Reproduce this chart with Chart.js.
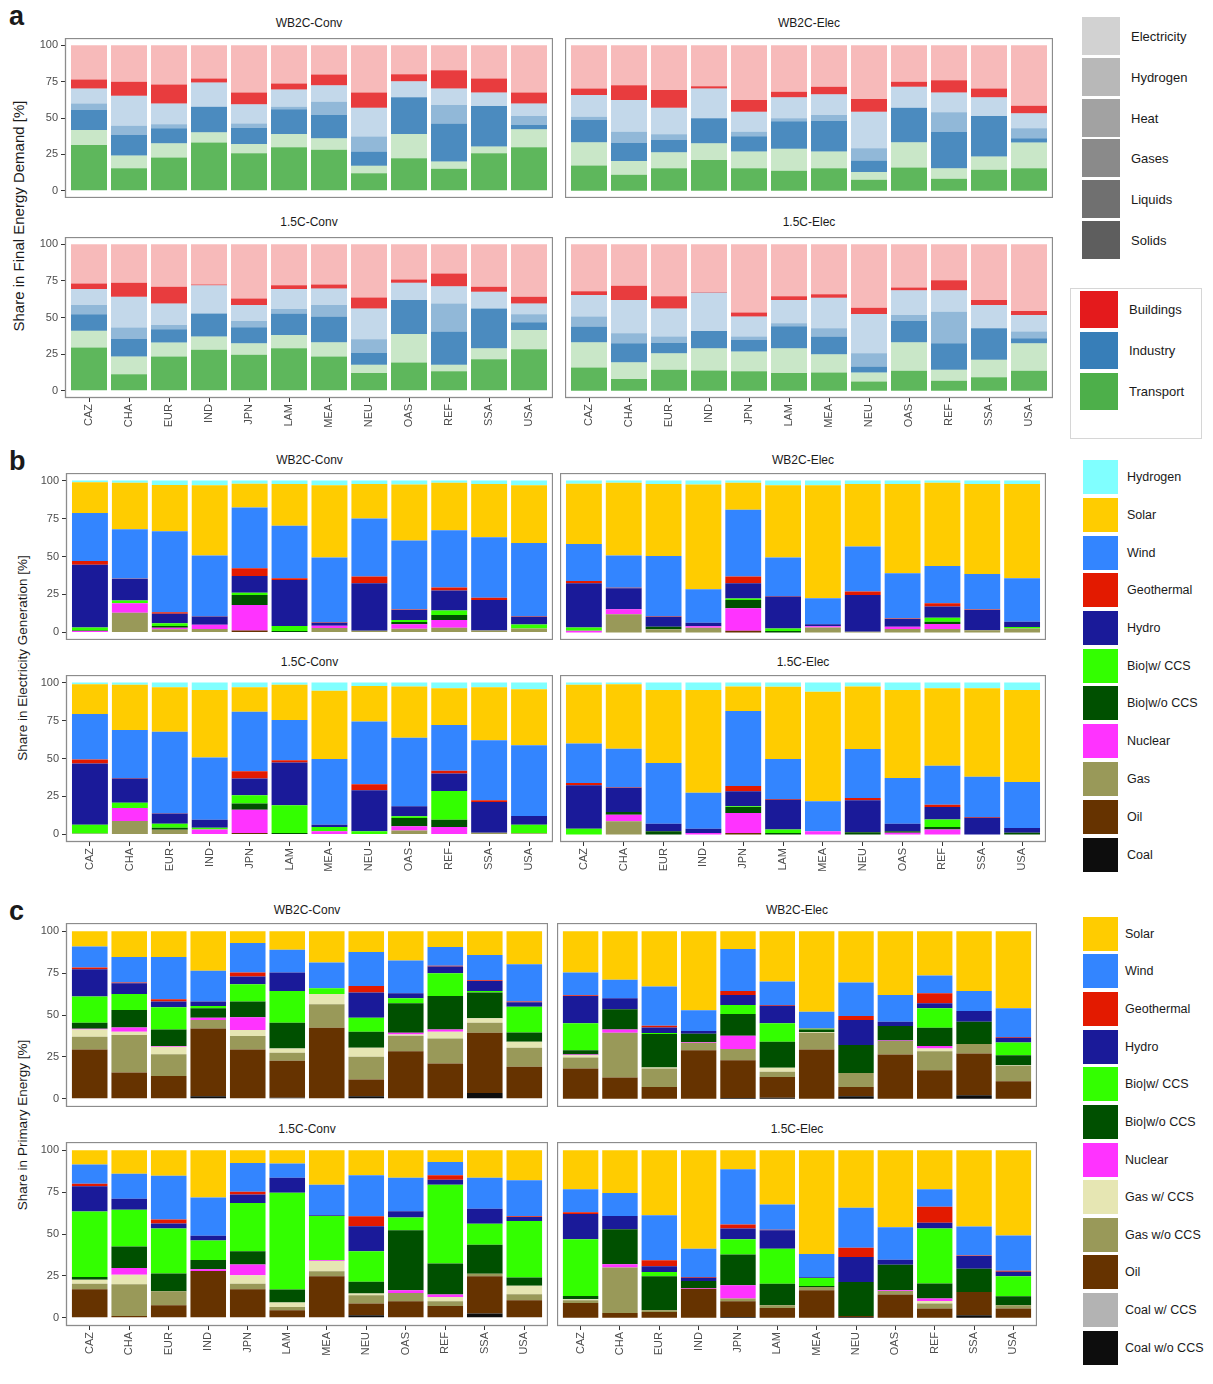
<!DOCTYPE html>
<html>
<head>
<meta charset="utf-8">
<script src="https://cdn.jsdelivr.net/npm/chart.js@4.4.1/dist/chart.umd.min.js"></script>
<style>
  body { margin: 0; background: #fff; }
  #page { position: relative; width: 1213px; height: 1384px; overflow: hidden; background: #fff;
          font-family: "Liberation Sans", Arial, sans-serif; color: #1a1a1a; }
  #page canvas { position: absolute; }
  .t { position: absolute; white-space: nowrap; }
</style>
</head>
<body>
<div id="page"></div>
<script>
// three faceted stacked-share charts (a: final energy, b: electricity, c: primary energy)
const FONT = '"Liberation Sans", Arial, sans-serif';
const regions = ['CAZ', 'CHA', 'EUR', 'IND', 'JPN', 'LAM', 'MEA', 'NEU', 'OAS', 'REF', 'SSA', 'USA'];
const scenarios = ['WB2C-Conv', 'WB2C-Elec', '1.5C-Conv', '1.5C-Elec'];
const yTicks = [0, 25, 50, 75, 100];

// ---- a: share in final energy demand, one array per layer (bottom -> top), values per region
const fedWConvTrLiq  = [31.5, 15.5, 22.8, 33.1, 25.8, 29.9, 28.1, 12.1, 22.4, 15.1, 25.8, 29.9];
const fedWConvTrEle  = [10.3, 8.7, 9.8, 7.1, 6.4, 9.1, 8.0, 5.0, 16.6, 5.0, 4.6, 12.3];
const fedWConvInSol  = [13.7, 14.2, 10.3, 17.6, 11.0, 17.0, 15.9, 9.9, 25.2, 26.2, 27.8, 3.0];
const fedWConvInHeat = [4.5, 6.3, 2.8, 0.0, 3.1, 1.8, 9.2, 10.2, 0.0, 12.6, 0.0, 6.2];
const fedWConvInEle  = [10.3, 20.6, 14.3, 16.6, 13.1, 11.8, 11.4, 19.9, 11.1, 11.4, 9.4, 8.6];
const fedWConvBuGas  = [6.2, 9.6, 13.0, 2.8, 8.2, 4.1, 7.3, 10.5, 4.8, 12.6, 9.6, 7.6];
const fedWConvBuEle  = [23.5, 25.1, 27.0, 22.8, 32.4, 26.3, 20.1, 32.4, 19.9, 17.1, 22.8, 32.4];

const fedWElecTrLiq  = [17.4, 11.0, 15.5, 21.2, 15.5, 13.7, 15.5, 7.5, 16.0, 8.2, 14.4, 15.5];
const fedWElecTrEle  = [15.9, 9.5, 11.0, 11.4, 11.4, 15.1, 11.4, 5.3, 17.3, 7.3, 9.1, 17.6];
const fedWElecInSol  = [15.3, 12.5, 8.5, 17.2, 10.5, 19.0, 21.0, 8.0, 23.8, 25.1, 27.9, 3.0];
const fedWElecInHeat = [2.3, 7.6, 3.8, 0.0, 3.2, 2.0, 4.2, 8.4, 0.0, 13.3, 0.0, 6.8];
const fedWElecInEle  = [14.9, 21.7, 18.3, 20.5, 13.7, 14.4, 14.3, 25.1, 14.4, 13.7, 12.8, 10.3];
const fedWElecBuGas  = [4.5, 10.3, 12.1, 1.6, 8.0, 3.8, 5.1, 8.7, 3.4, 8.4, 6.1, 5.2];
const fedWElecBuEle  = [29.7, 27.4, 30.8, 28.1, 37.7, 32.0, 28.5, 37.0, 25.1, 24.0, 29.7, 41.6];

const fedCConvTrLiq  = [29.5, 11.3, 23.4, 27.9, 24.5, 29.0, 23.4, 12.0, 19.3, 13.2, 21.5, 28.3];
const fedCConvTrEle  = [11.5, 12.1, 9.5, 9.1, 7.9, 9.1, 9.7, 5.7, 19.5, 4.5, 7.5, 13.2];
const fedCConvInSol  = [11.2, 12.0, 9.0, 15.8, 11.0, 14.7, 17.5, 8.0, 23.1, 22.7, 27.2, 5.2];
const fedCConvInHeat = [6.3, 7.7, 3.0, 0.0, 4.2, 3.0, 7.9, 9.4, 0.0, 19.2, 0.0, 5.5];
const fedCConvInEle  = [10.9, 21.1, 14.7, 19.3, 10.9, 13.6, 11.3, 21.1, 11.8, 11.8, 11.4, 7.4];
const fedCConvBuGas  = [3.8, 9.5, 11.4, 0.5, 4.5, 2.7, 2.8, 7.5, 2.3, 8.6, 3.4, 4.6];
const fedCConvBuEle  = [26.8, 26.3, 29.0, 27.4, 37.0, 27.9, 27.4, 36.3, 24.0, 20.0, 29.0, 35.8];

const fedCElecTrLiq  = [15.9, 7.9, 14.3, 13.8, 13.2, 12.0, 12.5, 6.3, 13.6, 6.8, 9.1, 13.6];
const fedCElecTrEle  = [17.2, 11.6, 11.3, 15.2, 13.6, 17.0, 12.4, 6.2, 19.5, 7.5, 12.0, 18.8];
const fedCElecInSol  = [10.7, 12.9, 7.0, 11.8, 8.0, 15.0, 12.1, 4.1, 14.5, 18.1, 21.5, 3.4];
const fedCElecInHeat = [6.8, 6.8, 4.4, 0.0, 2.2, 2.0, 5.6, 9.0, 4.1, 21.6, 0.0, 4.6];
const fedCElecInEle  = [14.7, 22.7, 19.2, 26.3, 13.6, 15.9, 20.9, 26.8, 17.0, 14.7, 15.9, 11.3];
const fedCElecBuGas  = [2.7, 9.8, 8.4, 0.3, 2.9, 2.7, 2.3, 4.3, 1.8, 6.8, 3.4, 2.7];
const fedCElecBuEle  = [32.0, 28.3, 35.4, 32.6, 46.5, 35.4, 34.2, 43.3, 29.5, 24.5, 38.1, 45.6];

const fedLayers = [
  ['Transport', 'Liquids'], ['Transport', 'Electricity'],
  ['Industry', 'Solids'], ['Industry', 'Heat'], ['Industry', 'Electricity'],
  ['Buildings', 'Gases'], ['Buildings', 'Electricity']
];
const fedCarriers = ['Electricity', 'Hydrogen', 'Heat', 'Gases', 'Liquids', 'Solids'];
const fedSectors = ['Buildings', 'Industry', 'Transport'];

// ---- b: share in electricity generation; rows = regions, columns = genTechs (bottom -> top)
const genTechs = ['Coal', 'Oil', 'Gas', 'Nuclear', 'Bio|w/o CCS', 'Bio|w/ CCS', 'Hydro', 'Geothermal', 'Wind', 'Solar', 'Hydrogen'];
const genWConv = [
  [0, 0, 0, 1.0, 0.3, 2.0, 41.2, 2.6, 31.5, 20.3, 1.1],
  [0, 0, 13.0, 6.2, 0, 1.8, 14.1, 0.3, 32.6, 30.5, 1.5],
  [0, 0, 2.0, 1.0, 1.3, 1.8, 6.2, 0.9, 53.5, 30.4, 2.9],
  [0, 0, 2.2, 2.9, 0, 0, 5.3, 0.3, 40.0, 46.3, 3.0],
  [0, 1.3, 0, 16.7, 6.6, 1.5, 11.0, 5.1, 40.1, 15.6, 2.1],
  [0, 0, 0, 0, 1.0, 3.3, 30.2, 1.1, 34.6, 27.6, 2.2],
  [0, 0, 2.9, 1.5, 0, 0, 2.0, 0.3, 42.7, 47.6, 3.0],
  [0, 0, 1.1, 0, 0, 0, 31.3, 4.4, 38.3, 22.7, 2.2],
  [0, 0, 2.4, 2.9, 1.5, 1.3, 6.6, 0.4, 45.4, 36.9, 2.6],
  [0, 0, 3.1, 5.1, 3.3, 2.9, 13.2, 2.0, 37.7, 31.2, 1.5],
  [0, 0, 1.3, 0, 0, 0, 20.1, 1.5, 39.7, 35.2, 2.2],
  [0, 0, 2.6, 0, 0, 2.6, 5.1, 0.4, 48.2, 38.1, 3.0]
];
const genWElec = [
  [0, 0, 0, 1.1, 0, 2.2, 29.1, 1.5, 24.4, 39.7, 2.0],
  [0, 0, 11.9, 3.3, 0, 0, 13.9, 0.3, 21.3, 47.8, 1.5],
  [0, 0, 2.0, 0, 1.7, 0, 6.6, 0.3, 39.8, 47.4, 2.2],
  [0, 0, 3.1, 1.0, 0, 0, 2.3, 0, 22.0, 69.0, 2.6],
  [0, 1.1, 0, 14.8, 5.5, 0.9, 10.1, 4.4, 44.0, 17.7, 1.5],
  [0, 0, 0, 0, 0.9, 1.7, 21.0, 0.4, 25.3, 47.6, 3.1],
  [0, 0, 3.3, 0.8, 0, 0, 1.2, 0, 17.2, 74.4, 3.1],
  [0, 0, 0.4, 0, 0, 0, 24.3, 2.2, 29.7, 41.2, 2.2],
  [0, 0, 2.2, 1.5, 0, 0, 5.1, 0.3, 29.9, 58.8, 2.2],
  [0, 0, 2.2, 3.3, 1.5, 2.7, 7.3, 2.2, 24.6, 54.7, 1.5],
  [0, 0, 1.5, 0, 0, 0, 13.3, 0.3, 23.4, 59.3, 2.2],
  [0, 0, 2.6, 0, 0, 1.0, 3.4, 0, 28.7, 62.1, 2.2]
];
const genCConv = [
  [0, 0, 0, 0.4, 0, 6.0, 40.3, 2.6, 30.0, 19.6, 1.1],
  [0, 0, 8.8, 8.6, 0, 3.5, 15.9, 0.4, 31.5, 29.8, 1.5],
  [0, 0, 3.1, 0, 1.3, 2.6, 6.7, 0.3, 53.6, 29.3, 3.1],
  [0, 0, 0, 3.3, 0, 1.1, 5.3, 0, 41.0, 44.5, 4.8],
  [0, 0.9, 0, 15.4, 4.0, 5.5, 11.0, 4.8, 39.2, 16.1, 3.1],
  [0, 0, 0, 0, 0.9, 18.3, 28.2, 1.5, 26.4, 23.2, 1.5],
  [0, 0, 0, 2.0, 0, 2.9, 1.5, 0, 43.2, 45.1, 5.3],
  [0, 0, 0, 0, 0, 2.0, 27.1, 4.0, 41.2, 23.5, 2.2],
  [0, 0, 2.6, 2.7, 5.5, 1.1, 6.6, 0, 45.2, 33.7, 2.6],
  [0, 0, 0, 4.8, 4.9, 18.9, 11.5, 1.8, 30.1, 24.3, 3.7],
  [0, 0, 1.1, 0, 0, 0, 20.3, 1.1, 39.6, 34.8, 3.1],
  [0, 0, 0.7, 0, 0, 5.7, 5.7, 0, 46.7, 36.8, 4.4]
];
const genCElec = [
  [0, 0, 0, 0, 0, 3.7, 28.7, 1.5, 26.0, 38.6, 1.5],
  [0, 0, 8.6, 4.4, 1.8, 0, 16.0, 0.3, 25.4, 42.4, 1.1],
  [0, 0, 0, 0, 2.0, 0, 5.0, 0, 40.1, 48.1, 4.8],
  [0, 0, 0, 1.0, 0, 0, 2.7, 0, 23.8, 67.7, 4.8],
  [0, 0.9, 0, 13.2, 4.0, 0.5, 9.8, 3.5, 49.4, 16.1, 2.6],
  [0, 0, 0, 0, 0.9, 2.4, 19.6, 0.4, 26.4, 47.6, 2.7],
  [0, 0, 0, 2.0, 0, 0, 0, 0, 19.8, 72.2, 6.0],
  [0, 0, 0, 0, 1.5, 0, 21.0, 1.5, 32.2, 41.2, 2.6],
  [0, 0, 0, 1.1, 0.9, 0, 5.0, 0, 30.2, 58.0, 4.8],
  [0, 0, 0, 3.3, 1.5, 5.1, 8.2, 1.5, 25.6, 51.1, 3.7],
  [0, 0, 0, 0, 0, 0, 11.0, 0.4, 26.5, 58.4, 3.7],
  [0, 0, 0, 0, 1.1, 0, 3.1, 0, 30.4, 60.6, 4.8]
];

// ---- c: share in primary energy; rows = regions, columns = peCarriers (bottom -> top)
const peCarriers = ['Coal w/o CCS', 'Coal w/ CCS', 'Oil', 'Gas w/o CCS', 'Gas w/ CCS', 'Nuclear',
                    'Bio|w/o CCS', 'Bio|w/ CCS', 'Hydro', 'Geothermal', 'Wind', 'Solar'];
const peWConv = [
  [0, 0, 29.4, 7.6, 4.4, 0.4, 3.6, 15.6, 16.4, 1.0, 12.6, 9.0],
  [0, 0, 15.6, 22.4, 2.0, 2.6, 10.4, 9.6, 6.4, 0.4, 15.2, 15.4],
  [0, 0, 13.6, 13.0, 4.4, 0.4, 10.0, 13.2, 3.4, 1.4, 25.2, 15.4],
  [1.4, 0, 40.6, 5.0, 0, 1.4, 5.6, 1.4, 2.6, 0, 18.4, 23.6],
  [0, 0, 29.4, 8.0, 3.6, 7.6, 9.4, 10.4, 4.6, 2.4, 17.6, 7.0],
  [0.6, 0, 22.0, 4.8, 2.6, 0, 15.4, 19.0, 11.0, 0, 13.6, 11.0],
  [0, 0, 42.4, 14.0, 6.2, 0, 0, 3.4, 0, 0, 15.4, 18.6],
  [1.4, 0, 10.0, 13.6, 5.4, 0, 9.6, 8.4, 15.0, 4.0, 20.2, 12.4],
  [0, 0, 28.4, 9.2, 0.8, 1.0, 17.6, 3.0, 3.0, 0, 19.6, 17.4],
  [0, 0, 21.0, 15.0, 4.0, 1.4, 20.0, 13.6, 4.0, 0.4, 11.2, 9.4],
  [3.4, 0, 36.0, 6.0, 2.6, 0, 15.4, 1.0, 6.0, 0.4, 15.0, 14.2],
  [0, 0, 19.0, 11.4, 3.6, 0, 5.6, 15.4, 2.6, 0.4, 22.4, 19.6]
];
const peWElec = [
  [0, 0, 18.0, 6.6, 1.4, 0.4, 2.6, 16.0, 16.4, 0.4, 13.6, 24.6],
  [0, 0, 12.6, 26.8, 0, 2.0, 12.0, 0, 6.6, 0, 11.0, 29.0],
  [0, 0, 7.0, 11.0, 0.6, 0, 20.0, 0.6, 3.4, 1.0, 23.4, 33.0],
  [0, 0, 29.0, 4.4, 0, 0.4, 5.0, 0, 1.6, 0, 12.4, 47.2],
  [0.4, 0, 22.6, 6.6, 0, 8.0, 13.0, 5.4, 6.0, 2.4, 25.0, 10.6],
  [0.6, 0, 12.4, 3.0, 2.4, 0, 15.6, 11.0, 10.6, 0.4, 14.0, 30.0],
  [0, 0, 29.4, 10.0, 0.4, 0, 1.6, 0.4, 0, 0.2, 10.0, 48.0],
  [1.4, 0, 5.6, 8.4, 0, 0, 16.6, 0, 15.0, 2.4, 20.0, 30.6],
  [0, 0, 26.4, 8.0, 0, 0.4, 8.6, 0, 2.6, 0, 16.0, 38.0],
  [0, 0, 17.0, 11.4, 1.6, 1.4, 11.0, 11.6, 3.0, 6.0, 10.6, 26.4],
  [2.0, 0, 25.0, 5.6, 0, 0, 13.4, 0, 6.4, 0, 12.0, 35.6],
  [0, 0, 10.4, 9.2, 0.4, 0, 6.0, 7.6, 2.8, 0.4, 17.2, 46.0]
];
const peCConv = [
  [0, 0, 16.9, 3.4, 2.4, 0, 1.6, 39.2, 15.1, 1.4, 11.6, 8.4],
  [0, 0, 1.0, 18.9, 5.8, 4.0, 12.9, 21.9, 6.6, 0, 14.9, 14.0],
  [0, 0, 7.4, 8.4, 0, 0, 10.6, 26.9, 3.0, 2.4, 26.1, 15.2],
  [0, 0, 27.9, 0, 0, 1.0, 5.6, 11.6, 2.8, 0, 22.9, 28.2],
  [0, 0, 16.9, 3.4, 5.0, 6.4, 8.0, 28.9, 5.0, 1.6, 17.3, 7.5],
  [0, 0, 4.4, 2.0, 2.6, 0, 7.8, 57.8, 9.0, 0, 8.6, 7.8],
  [0, 0, 24.7, 3.0, 6.2, 0.4, 0, 26.5, 0.4, 0, 18.3, 20.5],
  [1.4, 0, 7.0, 5.0, 1.0, 0, 7.0, 18.3, 14.9, 6.0, 24.5, 14.9],
  [0, 0, 9.8, 4.9, 0, 1.6, 35.9, 7.6, 3.8, 0, 20.1, 16.3],
  [0, 0, 7.0, 2.8, 2.6, 1.4, 18.5, 47.2, 3.0, 2.6, 8.0, 6.9],
  [2.4, 0, 22.3, 1.6, 0, 0, 17.3, 12.5, 9.0, 0, 18.5, 16.4],
  [0, 0, 10.4, 3.6, 5.0, 0, 5.0, 33.8, 2.4, 0.4, 21.5, 17.9]
];
const peCElec = [
  [0, 0, 8.8, 1.6, 0.6, 0, 2.0, 33.9, 15.1, 1.0, 13.7, 23.3],
  [0, 0, 2.8, 27.1, 0, 2.0, 20.9, 0, 8.0, 0, 13.7, 25.5],
  [0, 0, 3.4, 1.0, 0, 0, 20.3, 2.6, 3.4, 3.6, 26.9, 38.8],
  [0, 0, 17.3, 0, 0, 0.4, 4.2, 0, 2.0, 0.4, 16.9, 58.8],
  [0.4, 0, 9.4, 1.6, 0, 8.0, 18.3, 9.2, 6.4, 2.4, 33.0, 11.3],
  [0, 0, 5.8, 1.6, 0, 0, 12.9, 20.9, 11.0, 0.4, 15.1, 32.3],
  [0, 0, 16.3, 2.0, 0, 0, 0.6, 4.8, 0.4, 0, 13.9, 62.0],
  [0.4, 0, 0.6, 0, 0, 0, 20.3, 0, 14.9, 5.6, 23.9, 34.3],
  [0, 0, 13.9, 2.0, 0, 0.4, 15.3, 0, 3.0, 0, 19.5, 45.9],
  [0, 0, 5.4, 3.0, 1.6, 1.4, 9.0, 32.9, 3.4, 9.6, 10.4, 23.3],
  [1.4, 0, 13.9, 0, 0, 0, 13.9, 0, 7.6, 0.4, 17.3, 45.5],
  [0, 0, 5.4, 2.0, 0, 0, 5.4, 12.0, 2.6, 0.6, 21.1, 50.9]
];

// ---- styles
const sectorRgb = { Transport: [77, 175, 74], Industry: [55, 126, 184], Buildings: [228, 26, 28] };
const carrierAlpha = { Electricity: 0.3, Heat: 0.55, Gases: 0.85, Liquids: 0.9, Solids: 0.9 };
const carrierGray = ['#d2d2d2', '#b8b8b8', '#a2a2a2', '#8a8a8a', '#707070', '#5e5e5e'];
const techColor = {
  'Coal': '#0d0d0d', 'Coal w/o CCS': '#0d0d0d', 'Coal w/ CCS': '#b3b3b3', 'Oil': '#663300',
  'Gas': '#999959', 'Gas w/o CCS': '#999959', 'Gas w/ CCS': '#e6e6b3', 'Nuclear': '#ff33ff',
  'Bio|w/o CCS': '#005000', 'Bio|w/ CCS': '#33ff00', 'Hydro': '#1a1a99', 'Geothermal': '#e31a00',
  'Wind': '#3385ff', 'Solar': '#ffcc00', 'Hydrogen': '#80ffff'
};

const page = document.getElementById('page');
const YW = 32, XH = 42;

const frame = {
  id: 'frame',
  afterDatasetsDraw(chart) {
    const { ctx, chartArea: a } = chart;
    ctx.save();
    ctx.strokeStyle = '#8c8c8c';
    ctx.lineWidth = 1.3;
    ctx.strokeRect(a.left + 0.5, a.top + 0.5, a.right - a.left - 1, a.bottom - a.top - 1);
    ctx.restore();
  }
};

function facet(box, layers, showY, showX) {
  const cw = box.w + (showY ? YW : 0);
  const ch = box.h + (showX ? XH : 0);
  const canvas = document.createElement('canvas');
  canvas.width = cw; canvas.height = ch;
  canvas.style.left = (box.x - (showY ? YW : 0)) + 'px';
  canvas.style.top = box.y + 'px';
  canvas.style.width = cw + 'px';
  canvas.style.height = ch + 'px';
  page.appendChild(canvas);
  const tickFont = { size: 11, family: FONT };
  const axisGrid = { drawOnChartArea: false, drawTicks: true, tickLength: 4, color: '#333333', offset: false };
  new Chart(canvas.getContext('2d'), {
    type: 'bar',
    data: {
      datasets: layers.map(l => ({
        label: l.label,
        data: l.values.map((v, i) => ({ x: i, y: v })),
        backgroundColor: l.color,
        borderWidth: 0, stack: 's',
        barPercentage: 0.9, categoryPercentage: 1
      }))
    },
    options: {
      responsive: false, animation: false, devicePixelRatio: 1,
      layout: { padding: 0 },
      plugins: { legend: { display: false }, tooltip: { enabled: false } },
      scales: {
        x: {
          type: 'linear', min: -0.6, max: 11.6, offset: false, display: showX,
          afterBuildTicks: a => { a.ticks = regions.map((r, i) => ({ value: i })); },
          afterFit: a => { if (showX) { a.height = XH; a.paddingLeft = 0; a.paddingRight = 0; } },
          ticks: { autoSkip: false, minRotation: 90, maxRotation: 90, padding: 2, color: '#4d4d4d',
                   font: tickFont, callback: v => regions[v] ?? '' },
          grid: axisGrid, border: { display: false }
        },
        y: {
          stacked: true, min: -5, max: 105, display: showY,
          afterBuildTicks: a => { a.ticks = yTicks.map(v => ({ value: v })); },
          afterFit: a => { if (showY) { a.width = YW; a.paddingTop = 0; a.paddingBottom = 0; } },
          ticks: { padding: 3, color: '#4d4d4d', font: tickFont },
          grid: axisGrid, border: { display: false }
        }
      }
    },
    plugins: [frame]
  });
}

function text(str, x, y, css) {
  const d = document.createElement('div');
  d.className = 't';
  d.textContent = str;
  d.style.cssText += `left:${x}px;top:${y}px;${css || ''}`;
  page.appendChild(d);
  return d;
}
const centered = 'transform:translate(-50%,-50%);';

function legend(items, colors, x, centers, bw, bh, labelX, size) {
  items.forEach((name, i) => {
    const b = document.createElement('div');
    b.style.cssText = `position:absolute;left:${x}px;top:${centers[i] - bh / 2}px;width:${bw}px;height:${bh}px;background:${colors[i]}`;
    page.appendChild(b);
    text(name, labelX, centers[i], `transform:translateY(-50%);font-size:${size}px;`);
  });
}

// ---- panel geometry: [left/right x, width] and [top/bottom y, height] per row
const rows = [
  { tag: 'a', cols: [[65, 488], [565, 488]], lines: [[38, 160], [237, 161]],
    titleY: [23, 222], ytitle: 'Share in Final Energy Demand [%]', ytitleAt: [18, 216], ytSize: 15 },
  { tag: 'b', cols: [[66, 487], [560, 486]], lines: [[473, 167], [675, 167]],
    titleY: [460, 662], ytitle: 'Share in Electricity Generation [%]', ytitleAt: [22, 658], ytSize: 13.5 },
  { tag: 'c', cols: [[66, 482], [557, 480]], lines: [[923, 184], [1142, 184]],
    titleY: [910, 1129], ytitle: 'Share in Primary Energy [%]', ytitleAt: [22, 1125], ytSize: 13.5 }
];

// layers for each row and scenario
const fedByScenario = [
  [fedWConvTrLiq, fedWConvTrEle, fedWConvInSol, fedWConvInHeat, fedWConvInEle, fedWConvBuGas, fedWConvBuEle],
  [fedWElecTrLiq, fedWElecTrEle, fedWElecInSol, fedWElecInHeat, fedWElecInEle, fedWElecBuGas, fedWElecBuEle],
  [fedCConvTrLiq, fedCConvTrEle, fedCConvInSol, fedCConvInHeat, fedCConvInEle, fedCConvBuGas, fedCConvBuEle],
  [fedCElecTrLiq, fedCElecTrEle, fedCElecInSol, fedCElecInHeat, fedCElecInEle, fedCElecBuGas, fedCElecBuEle]
];
function fedLayersFor(s) {
  return fedLayers.map(([sector, carrier], k) => {
    const [r, g, b] = sectorRgb[sector];
    return { label: sector + ' ' + carrier, values: fedByScenario[s][k],
             color: `rgba(${r},${g},${b},${carrierAlpha[carrier]})` };
  });
}
function matrixLayers(names, matrix) {
  return names.map((name, k) => ({ label: name, values: matrix.map(row => row[k]), color: techColor[name] }));
}
const genByScenario = [genWConv, genWElec, genCConv, genCElec];
const peByScenario = [peWConv, peWElec, peCConv, peCElec];
const layerFns = [
  s => fedLayersFor(s),
  s => matrixLayers(genTechs, genByScenario[s]),
  s => matrixLayers(peCarriers, peByScenario[s])
];

rows.forEach((row, ri) => {
  scenarios.forEach((name, s) => {
    const col = s % 2, line = Math.floor(s / 2);
    const [x, w] = row.cols[col];
    const [y, h] = row.lines[line];
    facet({ x, y, w, h }, layerFns[ri](s), col === 0, line === 1);
    text(name, x + w / 2, row.titleY[line], centered + 'font-size:12px;color:#1a1a1a;');
  });
  text(row.ytitle, row.ytitleAt[0], row.ytitleAt[1],
       `transform:translate(-50%,-50%) rotate(-90deg);font-size:${row.ytSize}px;color:#1a1a1a;`);
});

text('a', 9, 3, 'font-size:27px;font-weight:bold;line-height:1;');
text('b', 9, 448, 'font-size:27px;font-weight:bold;line-height:1;');
text('c', 9, 898, 'font-size:27px;font-weight:bold;line-height:1;');

// legends
legend(fedCarriers, carrierGray, 1082, [36, 77, 118, 158, 199, 240], 38, 38, 1131, 13);
const sectorBox = document.createElement('div');
sectorBox.style.cssText = 'position:absolute;left:1070px;top:288px;width:130px;height:149px;border:1px solid #d6d6d6;';
page.appendChild(sectorBox);
legend(fedSectors, fedSectors.map(s => `rgb(${sectorRgb[s].join(',')})`), 1080, [309, 350, 391], 38, 37, 1129, 13);

const genLegend = genTechs.slice().reverse();
legend(genLegend, genLegend.map(t => techColor[t]), 1083, [477, 515, 553, 590, 628, 666, 703, 741, 779, 817, 855], 35, 34, 1127, 12.5);
const peLegend = peCarriers.slice().reverse();
legend(peLegend, peLegend.map(t => techColor[t]), 1083, [934, 971, 1009, 1047, 1084, 1122, 1160, 1197, 1235, 1272, 1310, 1348], 35, 34, 1125, 12.5);
</script>
</body>
</html>
